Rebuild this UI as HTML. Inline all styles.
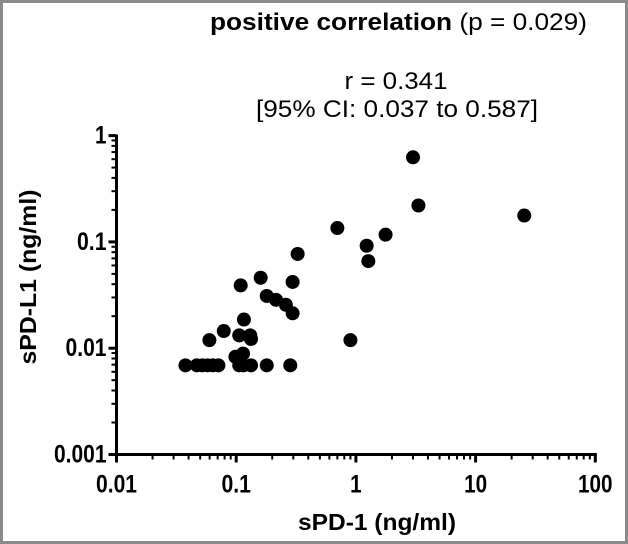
<!DOCTYPE html>
<html><head><meta charset="utf-8"><style>
html,body{margin:0;padding:0;background:#fff;}
svg{display:block;font-family:"Liberation Sans",Arial,sans-serif;}
</style></head><body>
<svg id="chart" width="628" height="544" viewBox="0 0 628 544">
<rect x="1.5" y="1.5" width="625" height="541" fill="#fff" stroke="#8a8a8a" stroke-width="3"/>
<text x="210" y="30" font-size="24" textLength="377" lengthAdjust="spacingAndGlyphs"><tspan font-weight="bold">positive correlation</tspan> (p = 0.029)</text>
<text x="396" y="89" font-size="24" text-anchor="middle" textLength="103" lengthAdjust="spacingAndGlyphs">r = 0.341</text>
<text x="397" y="117" font-size="24" text-anchor="middle" textLength="282" lengthAdjust="spacingAndGlyphs">[95% CI: 0.037 to 0.587]</text>
<text transform="translate(36,277) rotate(-90)" font-size="23" font-weight="bold" text-anchor="middle" textLength="175" lengthAdjust="spacingAndGlyphs">sPD-L1 (ng/ml)</text>
<text x="377" y="530" font-size="23" font-weight="bold" text-anchor="middle" textLength="158" lengthAdjust="spacingAndGlyphs">sPD-1 (ng/ml)</text>
<g id="axes"></g>
<g id="points"></g>
</svg>
<script>
const xVals=[3.0,3.33,25.5,0.70,1.77,1.23,1.27,0.326,0.16,0.296,0.109,0.18,0.215,0.26,0.296,0.116,0.0787,0.0597,0.106,0.131,0.133,0.9,0.0985,0.114,0.0377,0.0469,0.052,0.0576,0.0638,0.071,0.106,0.115,0.133,0.18,0.283];
const yVals=[0.625,0.22,0.177,0.135,0.117,0.092,0.066,0.077,0.046,0.042,0.039,0.031,0.0285,0.0256,0.0213,0.0186,0.0145,0.0119,0.0132,0.0132,0.0122,0.0119,0.0083,0.0089,0.0069,0.0069,0.0069,0.0069,0.0069,0.0069,0.0069,0.0069,0.0069,0.0069,0.0069];
const xTicks=["0.01","0.1","1","10","100"];
const yTicks=["0.001","0.01","0.1","1"];
const NS="http://www.w3.org/2000/svg";
const X0=116.5,XD=119.7,Y0=454.5,YD=106.3;
function sx(v){return X0+(Math.log10(v)+2)*XD;}
function sy(v){return Y0-(Math.log10(v)+3)*YD;}
function mk(tag,attrs,parent){const e=document.createElementNS(NS,tag);for(const k in attrs)e.setAttribute(k,attrs[k]);parent.appendChild(e);return e;}
function lw(t){return t.length*11.5-(t.indexOf('.')>=0?5:0);}
const ax=document.getElementById('axes');
let l=mk('line',{x1:X0,y1:sy(1)-1,x2:X0,y2:Y0+1.5,stroke:'#000','stroke-width':3},ax);


l=mk('line',{x1:X0-1.5,y1:Y0,x2:sx(100)+1.5,y2:Y0,stroke:'#000','stroke-width':3},ax);


xTicks.forEach((t,i)=>{
  const v=parseFloat(t),x=sx(v);
  const tk=mk('line',{x1:x,y1:Y0,x2:x,y2:Y0+8,stroke:'#000','stroke-width':3},ax);
  
  
  const tx=mk('text',{x:x,y:Y0+38,'font-size':25,'font-weight':'bold','text-anchor':'middle',textLength:lw(t),lengthAdjust:'spacingAndGlyphs'},ax);
  tx.textContent=t;
  
  
  if(i<xTicks.length-1){for(let m=2;m<=9;m++){const mx=sx(v*m);
    const mt=mk('line',{x1:mx,y1:Y0,x2:mx,y2:Y0+5,stroke:'#000','stroke-width':2},ax);
    
    }}
});
yTicks.forEach((t,i)=>{
  const v=parseFloat(t),y=sy(v);
  const tk=mk('line',{x1:X0-8,y1:y,x2:X0,y2:y,stroke:'#000','stroke-width':3},ax);
  
  
  const tx=mk('text',{x:X0-10,y:y+8,'font-size':25,'font-weight':'bold','text-anchor':'end',textLength:lw(t),lengthAdjust:'spacingAndGlyphs'},ax);
  tx.textContent=t;
  
  
  if(i<yTicks.length-1){for(let m=2;m<=9;m++){const my=sy(v*m);
    const mt=mk('line',{x1:X0-5,y1:my,x2:X0,y2:my,stroke:'#000','stroke-width':2},ax);
    
    }}
});
const pg=document.getElementById('points');
xVals.forEach((xv,i)=>{
  const c=mk('circle',{cx:sx(xv),cy:sy(yVals[i]),r:7,fill:'#000'},pg);
  
  
});
</script>
</body></html>
